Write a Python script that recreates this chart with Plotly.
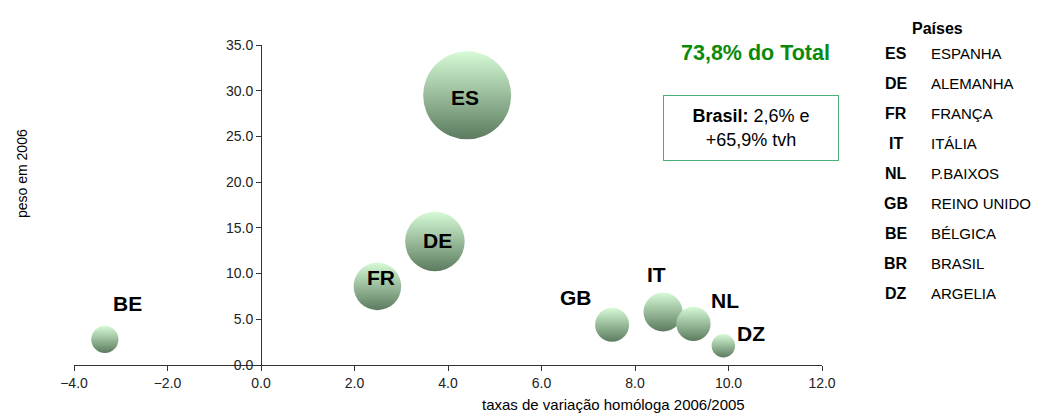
import plotly.graph_objects as go

# bubble data: x = taxa de variação homóloga 2006/2005, y = peso em 2006 (bubble area = peso)
codes = ["BE", "FR", "DE", "ES", "GB", "IT", "NL", "DZ"]
tvh = [-3.34, 2.49, 3.72, 4.41, 7.51, 8.60, 9.25, 9.89]
peso = [2.8, 8.6, 13.5, 29.5, 4.4, 5.8, 4.5, 2.1]
# label offsets in px (Excel style data labels)
lab_dx = [23, 4, 3, -2, -36, -7, 32, 28]
lab_dy = [36, 9, 1, -2, 27, 37, 23, 12]

legend_codes = ["ES", "DE", "FR", "IT", "NL", "GB", "BE", "BR", "DZ"]
legend_names = ["ESPANHA", "ALEMANHA", "FRANÇA", "ITÁLIA", "P.BAIXOS",
                "REINO UNIDO", "BÉLGICA", "BRASIL", "ARGELIA"]

yticks = [0, 5, 10, 15, 20, 25, 30, 35]
xticks = [-4, -2, 0, 2, 4, 6, 8, 10, 12]

W, H = 1060, 414
L, R, T, B = 66, 246, 37, 57
max_d = 88

fig = go.Figure()

fig.add_trace(
    go.Scatter(
        x=tvh,
        y=peso,
        mode="markers",
        marker=dict(
            size=peso,
            sizemode="area",
            sizeref=2 * max(peso) / max_d ** 2,
            color="#d6fbd6",
            gradient=dict(type="vertical", color="#5c7b5f"),
            line=dict(width=0),
            opacity=1,
        ),
        cliponaxis=False,
        hoverinfo="skip",
        showlegend=False,
    )
)

txt_font = "Liberation Sans, Arial, sans-serif"
tick_font = dict(family=txt_font, size=14, color="#222")


def px(x, y):
    # pixel position on the page -> paper coordinates
    return (x - L) / (W - L - R), (H - B - y) / (H - T - B)


def note(x, y, text, size, color="black", xanchor="center", **kw):
    xp, yp = px(x, y)
    return dict(x=xp, y=yp, xref="paper", yref="paper", text=text, showarrow=False,
                xanchor=xanchor, yanchor="middle",
                font=dict(family=txt_font, size=size, color=color), **kw)


annotations = []
for c, x, y, dx, dy in zip(codes, tvh, peso, lab_dx, lab_dy):
    annotations.append(dict(
        x=x, y=y, xref="x", yref="y", text="<b>%s</b>" % c, showarrow=False,
        xanchor="center", yanchor="middle",
        xshift=dx, yshift=dy, font=dict(family=txt_font, size=21, color="black"),
    ))

# legend table on the right
annotations.append(note(929, 21, "<b>Países</b>", 16))
for i, (c, n) in enumerate(zip(legend_codes, legend_names)):
    yy = 46 + i * 29.9
    annotations.append(note(888, yy, "<b>%s</b>" % c, 16))
    annotations.append(note(921, yy, n, 15, xanchor="left"))

annotations.append(note(747, 45, "<b>73,8% do Total</b>", 21.5, color="#0a8a0a"))
annotations.append(note(743, 120, "<b>Brasil:</b> 2,6% e<br>+65,9% tvh", 18,
                        width=170, height=60, bordercolor="#4caf78", borderwidth=1,
                        borderpad=2, bgcolor="white", align="center"))
annotations.append(note(605, 396, "taxas de variação homóloga 2006/2005", 15))
annotations.append(note(14, 166, "peso em 2006", 14, textangle=-90))

fig.update_layout(
    width=W,
    height=H,
    margin=dict(l=L, r=R, t=T, b=B),
    paper_bgcolor="white",
    plot_bgcolor="white",
    showlegend=False,
    annotations=annotations,
    xaxis=dict(
        range=[-4, 12],
        tickvals=xticks,
        tickformat=".1f",
        showline=True,
        linecolor="#333",
        linewidth=1,
        ticks="outside",
        ticklen=5,
        tickcolor="#333",
        showgrid=False,
        zeroline=False,
        tickfont=tick_font,
        fixedrange=True,
    ),
    yaxis=dict(
        range=[0, 35],
        tickvals=yticks,
        tickformat=".1f",
        anchor="free",
        position=0.25,
        showline=True,
        linecolor="#333",
        linewidth=1,
        ticks="outside",
        ticklen=5,
        tickcolor="#333",
        showgrid=False,
        zeroline=False,
        tickfont=tick_font,
        fixedrange=True,
    ),
)

fig.write_html("out.html")
